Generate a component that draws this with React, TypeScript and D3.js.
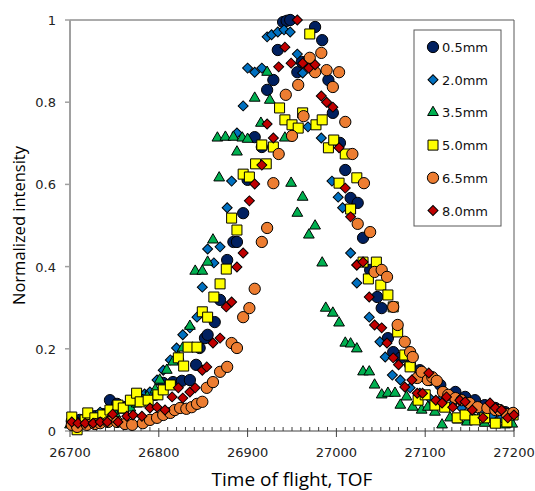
import React from 'react';
import * as d3 from 'd3';

// tick labels
const xTicks = [26700, 26800, 26900, 27000, 27100, 27200];
const yTicks = [0, 0.2, 0.4, 0.6, 0.8, 1];
const seriesNames = ['0.5mm', '2.0mm', '3.5mm', '5.0mm', '6.5mm', '8.0mm'];

// [TOF, normalized intensity]
const s05: [number, number][] = [
  [26702, 0.024], [26711, 0.027], [26720, 0.032], [26728, 0.036], [26737, 0.041], [26745, 0.075],
  [26753, 0.066], [26762, 0.058], [26771, 0.071], [26779, 0.08], [26788, 0.085], [26796, 0.088],
  [26805, 0.117], [26816, 0.119], [26826, 0.122], [26835, 0.124], [26842, 0.161], [26846, 0.202],
  [26852, 0.226], [26855, 0.234], [26863, 0.265], [26869, 0.319], [26877, 0.416], [26884, 0.46],
  [26888, 0.46], [26895, 0.53], [26900, 0.611], [26908, 0.715], [26916, 0.691], [26922, 0.83],
  [26929, 0.854], [26934, 0.927], [26940, 0.995], [26944, 0.998], [26948, 1.0], [26956, 0.873],
  [26961, 0.898], [26967, 0.898], [26976, 0.983], [26984, 0.951], [26991, 0.854], [26996, 0.774],
  [27004, 0.701], [27010, 0.635], [27016, 0.567], [27024, 0.555], [27030, 0.47], [27038, 0.392],
  [27046, 0.326], [27051, 0.299], [27058, 0.226], [27064, 0.192], [27072, 0.178], [27083, 0.161],
  [27094, 0.148], [27105, 0.124], [27117, 0.112], [27134, 0.095], [27145, 0.083], [27156, 0.075],
  [27167, 0.063], [27179, 0.056], [27190, 0.046], [27198, 0.041],
];

const s20: [number, number][] = [
  [26702, 0.019], [26708, 0.022], [26717, 0.024], [26725, 0.027], [26734, 0.046], [26743, 0.041],
  [26751, 0.049], [26760, 0.056], [26768, 0.066], [26777, 0.075], [26784, 0.09], [26790, 0.095],
  [26798, 0.124], [26805, 0.148], [26813, 0.173], [26820, 0.202], [26827, 0.234], [26835, 0.251],
  [26843, 0.277], [26849, 0.35], [26855, 0.443], [26862, 0.409], [26869, 0.448], [26877, 0.543],
  [26882, 0.608], [26888, 0.725], [26895, 0.791], [26900, 0.883], [26908, 0.873], [26916, 0.883],
  [26922, 0.959], [26927, 0.964], [26934, 0.971], [26941, 0.976], [26948, 0.971], [26956, 0.917],
  [26962, 0.871], [26968, 0.74], [26983, 0.713], [26995, 0.608], [27002, 0.569], [27007, 0.543],
  [27016, 0.433], [27023, 0.404], [27023, 0.36], [27037, 0.277], [27049, 0.217], [27055, 0.18],
  [27063, 0.136], [27072, 0.124], [27083, 0.105], [27094, 0.092], [27105, 0.08], [27117, 0.075],
  [27130, 0.063], [27141, 0.056], [27153, 0.051], [27164, 0.041], [27175, 0.036], [27186, 0.032],
  [27195, 0.034],
];

const s35: [number, number][] = [
  [26700, 0.015], [26709, 0.019], [26717, 0.024], [26726, 0.027], [26734, 0.032], [26743, 0.036],
  [26751, 0.041], [26760, 0.051], [26768, 0.056], [26775, 0.066], [26782, 0.075], [26787, 0.083],
  [26796, 0.1], [26801, 0.124], [26809, 0.148], [26816, 0.168], [26822, 0.182], [26827, 0.202],
  [26835, 0.255], [26841, 0.389], [26849, 0.389], [26855, 0.411], [26861, 0.465], [26866, 0.713],
  [26868, 0.616], [26875, 0.715], [26884, 0.715], [26888, 0.679], [26894, 0.713], [26900, 0.71],
  [26908, 0.81], [26915, 0.749], [26922, 0.873], [26925, 0.805], [26942, 0.713], [26949, 0.603],
  [26956, 0.53], [26962, 0.569], [26969, 0.477], [26976, 0.499], [26984, 0.409], [26988, 0.299],
  [26996, 0.287], [27003, 0.263], [27010, 0.214], [27016, 0.212], [27023, 0.2], [27030, 0.144],
  [27037, 0.144], [27043, 0.112], [27051, 0.088], [27058, 0.092], [27066, 0.092], [27072, 0.063],
  [27079, 0.083], [27086, 0.058], [27096, 0.051], [27103, 0.058], [27111, 0.046], [27119, 0.015],
  [27128, 0.032], [27137, 0.027], [27147, 0.022], [27156, 0.027], [27167, 0.019], [27179, 0.017],
  [27190, 0.015], [27198, 0.017],
];

const s50: [number, number][] = [
  [26702, 0.034], [26708, 0.003], [26717, 0.027], [26720, 0.044], [26728, 0.032], [26737, 0.039],
  [26745, 0.051], [26754, 0.063], [26760, 0.056], [26768, 0.075], [26775, 0.092], [26779, 0.071],
  [26788, 0.075], [26799, 0.088], [26805, 0.1], [26813, 0.112], [26822, 0.178], [26828, 0.158],
  [26833, 0.204], [26843, 0.204], [26849, 0.29], [26855, 0.277], [26862, 0.326], [26869, 0.358],
  [26876, 0.394], [26882, 0.518], [26888, 0.489], [26895, 0.625], [26902, 0.618], [26909, 0.65],
  [26916, 0.696], [26921, 0.65], [26929, 0.691], [26936, 0.786], [26942, 0.757], [26950, 0.745],
  [26957, 0.737], [26962, 0.774], [26970, 0.966], [26977, 0.745], [26984, 0.757], [26991, 0.689],
  [26997, 0.708], [27003, 0.603], [27010, 0.674], [27016, 0.54], [27023, 0.616], [27030, 0.411],
  [27036, 0.37], [27045, 0.411], [27050, 0.355], [27058, 0.331], [27064, 0.302], [27069, 0.241],
  [27077, 0.185], [27083, 0.156], [27092, 0.075], [27100, 0.088], [27111, 0.063], [27122, 0.058],
  [27136, 0.032], [27145, 0.039], [27156, 0.027], [27167, 0.032], [27179, 0.019], [27192, 0.022],
  [27199, 0.039],
];

const s65: [number, number][] = [
  [26702, 0.015], [26708, 0.01], [26719, 0.015], [26728, 0.017], [26734, 0.019], [26743, 0.022],
  [26753, 0.022], [26762, 0.017], [26770, 0.015], [26782, 0.019], [26790, 0.027], [26798, 0.032],
  [26805, 0.039], [26813, 0.044], [26818, 0.051], [26824, 0.056], [26831, 0.054], [26837, 0.058],
  [26843, 0.066], [26849, 0.071], [26854, 0.105], [26861, 0.119], [26869, 0.144], [26877, 0.156],
  [26882, 0.214], [26888, 0.202], [26895, 0.277], [26902, 0.299], [26908, 0.346], [26916, 0.46],
  [26922, 0.494], [26929, 0.603], [26935, 0.674], [26943, 0.818], [26950, 0.718], [26957, 0.842],
  [26963, 0.766], [26970, 0.908], [26976, 0.873], [26983, 0.92], [26989, 0.878], [26996, 0.837],
  [27003, 0.873], [27010, 0.752], [27018, 0.674], [27024, 0.504], [27031, 0.603], [27038, 0.484],
  [27043, 0.387], [27051, 0.392], [27057, 0.375], [27064, 0.302], [27069, 0.258], [27077, 0.217],
  [27083, 0.192], [27086, 0.18], [27091, 0.129], [27096, 0.144], [27103, 0.124], [27108, 0.131],
  [27113, 0.122], [27120, 0.095], [27126, 0.088], [27134, 0.08], [27141, 0.075], [27150, 0.068],
  [27159, 0.058], [27170, 0.056], [27179, 0.051], [27184, 0.051], [27192, 0.041], [27199, 0.044],
];

const s80: [number, number][] = [
  [26702, 0.022], [26709, 0.019], [26717, 0.019], [26726, 0.019], [26734, 0.022], [26742, 0.022],
  [26748, 0.041], [26754, 0.022], [26764, 0.036], [26771, 0.039], [26781, 0.036], [26790, 0.056],
  [26798, 0.058], [26807, 0.051], [26815, 0.083], [26822, 0.105], [26827, 0.08], [26835, 0.095],
  [26841, 0.105], [26849, 0.148], [26854, 0.156], [26861, 0.214], [26869, 0.226], [26876, 0.302],
  [26882, 0.314], [26888, 0.399], [26895, 0.433], [26902, 0.56], [26908, 0.601], [26916, 0.647],
  [26922, 0.747], [26929, 0.713], [26935, 0.886], [26942, 0.934], [26949, 0.895], [26956, 1.0],
  [26962, 0.895], [26969, 0.883], [26976, 0.891], [26983, 0.815], [26989, 0.8], [26996, 0.788],
  [27003, 0.689], [27010, 0.591], [27016, 0.521], [27023, 0.404], [27030, 0.411], [27037, 0.326],
  [27043, 0.258], [27051, 0.251], [27057, 0.214], [27064, 0.178], [27070, 0.161], [27077, 0.107],
  [27085, 0.124], [27091, 0.092], [27097, 0.092], [27104, 0.141], [27112, 0.075], [27119, 0.068],
  [27124, 0.083], [27131, 0.058], [27139, 0.075], [27145, 0.071], [27153, 0.051], [27165, 0.032],
  [27173, 0.068], [27179, 0.056], [27186, 0.051], [27193, 0.032], [27200, 0.039],
];

const allSeries = [s05, s20, s35, s50, s65, s80];
const fills = ['#002060', '#0070C0', '#00B050', '#FFFF00', '#ED7D31', '#C00000'];

const left = 70;
const right = 514;
const top = 20;
const bottom = 431;

// marker shapes: circle, diamond, triangle, square
const markerPath = (i: number) => {
  if (i === 0 || i === 4) return d3.symbol(d3.symbolCircle, 100)()!;
  if (i === 1 || i === 5) return d3.symbol(d3.symbolSquare, 50)()!;
  if (i === 2) return d3.symbol(d3.symbolTriangle, 50)()!;
  return d3.symbol(d3.symbolSquare, 100)()!;
};
const markerRot = (i: number) => (i === 1 || i === 5 ? ' rotate(45)' : '');

export default function App() {
  const x = d3.scaleLinear().domain([26700, 27200]).range([left, right]);
  const y = d3.scaleLinear().domain([0, 1]).range([bottom, top]);
  const minor = d3.range(26710, 27200, 10).filter((v) => v % 100 !== 0);

  const tickFont = 'DejaVu Sans, Verdana, sans-serif';
  const titleFont = 'Open Sans, sans-serif';

  return (
    <svg width={535} height={491} style={{ position: 'absolute', left: 0, top: 0, background: '#fff' }}>
      {/* frame */}
      <path d={`M${left},${top}H${right}V${bottom}`} fill="none" stroke="#595959" strokeWidth={1} />
      <line x1={left} x2={right} y1={bottom} y2={bottom} stroke="#404040" strokeWidth={1} />
      <line x1={left} x2={left} y1={top} y2={bottom} stroke="#a0a0a0" strokeWidth={2} />

      {/* y ticks */}
      {yTicks.map((t) => (
        <g key={t}>
          <line x1={left - 5} x2={left} y1={y(t)} y2={y(t)} stroke="#a0a0a0" strokeWidth={1.5} />
          <text x={left - 14} y={y(t) + 5} textAnchor="end" fontFamily={tickFont} fontSize={13} fill="#222">
            {t}
          </text>
        </g>
      ))}

      {/* x ticks */}
      {minor.map((t) => (
        <line key={t} x1={x(t)} x2={x(t)} y1={bottom - 4} y2={bottom} stroke="#404040" />
      ))}
      {xTicks.map((t) => (
        <g key={t}>
          <line x1={x(t)} x2={x(t)} y1={bottom - 3} y2={bottom + 6} stroke="#404040" />
          <text x={x(t)} y={bottom + 26} textAnchor="middle" fontFamily={tickFont} fontSize={13} fill="#222">
            {t}
          </text>
        </g>
      ))}

      {/* markers */}
      {allSeries.map((s, i) => (
        <g key={i}>
          {s.map(([tof, v], j) => (
            <path
              key={j}
              d={markerPath(i)}
              transform={`translate(${x(tof)},${y(v)})${markerRot(i)}`}
              fill={fills[i]}
              stroke="#000"
              strokeWidth={1}
            />
          ))}
        </g>
      ))}

      {/* axis titles */}
      <text x={(left + right) / 2} y={486} textAnchor="middle" fontFamily={titleFont} fontSize={19} fill="#000">
        Time of flight, TOF
      </text>
      <text
        transform={`translate(25,${(top + bottom) / 2}) rotate(-90)`}
        textAnchor="middle"
        fontFamily={titleFont}
        fontSize={16.5}
        fill="#000"
      >
        Normalized intensity
      </text>

      {/* legend */}
      <rect x={414} y={30} width={87} height={196} fill="#fff" stroke="#595959" />
      {seriesNames.map((n, i) => (
        <g key={n} transform={`translate(0,${47 + i * 32.7})`}>
          <path d={markerPath(i)} transform={`translate(433,0)${markerRot(i)}`} fill={fills[i]} stroke="#000" />
          <text x={442} y={5} fontFamily={tickFont} fontSize={13} fill="#111">
            {n}
          </text>
        </g>
      ))}
    </svg>
  );
}
